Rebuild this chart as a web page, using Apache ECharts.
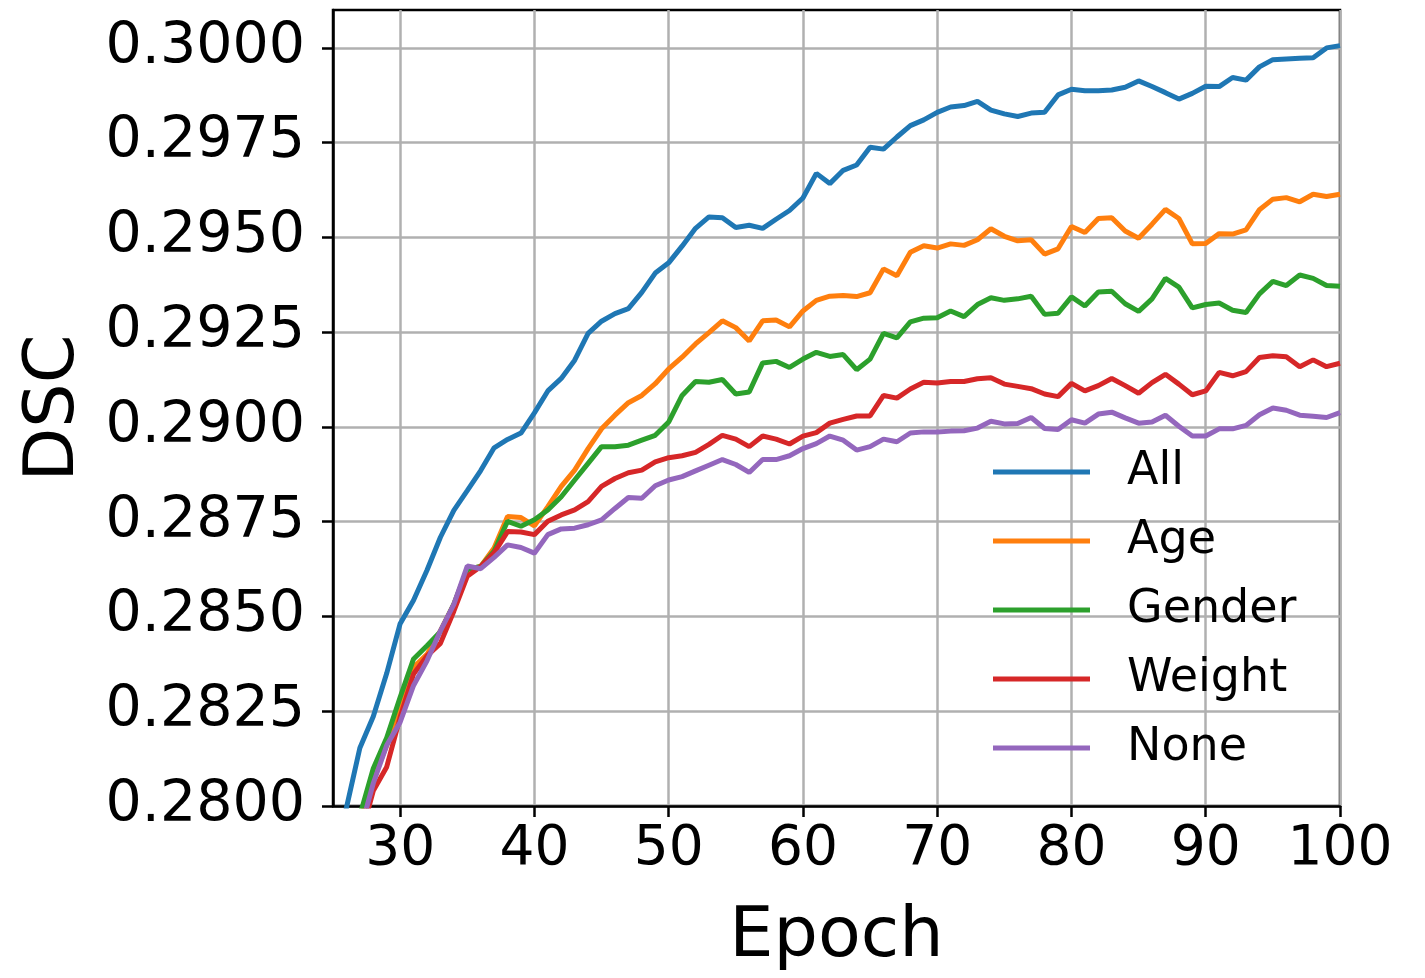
<!DOCTYPE html>
<html>
<head>
<meta charset="utf-8">
<script src="https://cdn.jsdelivr.net/npm/echarts@6/dist/echarts.min.js"></script>
<style>
  html, body { margin: 0; padding: 0; background: #fff; }
  #chart { width: 1425px; height: 978px; }
</style>
</head>
<body>
<div id="chart"></div>
<script>
// epochs 25..100
const epochs = []
for (let e = 25; e <= 100; e++) epochs.push(e)

const allData = [
  0.2785, 0.27995, 0.28153, 0.28236, 0.2835, 0.28481, 0.28543, 0.28622, 0.28709, 0.2878,
  0.28832, 0.28885, 0.28945, 0.28967, 0.28984, 0.29037, 0.29095, 0.29128, 0.29176, 0.29247,
  0.29279, 0.29299, 0.29312, 0.29355, 0.29406, 0.29433, 0.29477, 0.29524, 0.29554, 0.29552,
  0.29526, 0.29532, 0.29524, 0.29548, 0.29571, 0.29604, 0.29669, 0.29642, 0.29677, 0.29691,
  0.29738, 0.29733, 0.29765, 0.29795, 0.2981, 0.2983, 0.29844, 0.29848, 0.29859, 0.29836,
  0.29826, 0.29819, 0.29828, 0.2983, 0.29876, 0.29891, 0.29887, 0.29887, 0.29889, 0.29896,
  0.29913, 0.29898, 0.29882, 0.29865, 0.2988, 0.29899, 0.29898, 0.29922, 0.29915, 0.2995,
  0.29969, 0.29971, 0.29973, 0.29974, 0.3, 0.30006
]
const ageData = [
  0.2770, 0.2783, 0.2796, 0.2807, 0.2816, 0.2827, 0.28366, 0.2840, 0.28462, 0.28532,
  0.28624, 0.28632, 0.28681, 0.28764, 0.28761, 0.28739, 0.2879, 0.28843, 0.28886, 0.28943,
  0.28995, 0.29031, 0.29064, 0.29083, 0.29114, 0.29153, 0.29184, 0.29219, 0.29249, 0.2928,
  0.29262, 0.29227, 0.2928, 0.29282, 0.29264, 0.29306, 0.29334, 0.29345, 0.29347, 0.29344,
  0.29354, 0.29417, 0.29399, 0.29461, 0.29478, 0.29472, 0.29483, 0.29479, 0.29494, 0.29523,
  0.29503, 0.29491, 0.29494, 0.29456, 0.2947, 0.29529, 0.29513, 0.2955, 0.29552, 0.29517,
  0.29498, 0.29535, 0.29574, 0.2955, 0.29483, 0.29484, 0.2951, 0.29509, 0.2952, 0.29573,
  0.29601, 0.29605, 0.29594, 0.29614, 0.29608, 0.29614
]
const genderData = [
  0.2771, 0.2784, 0.27975, 0.28099, 0.2818, 0.28287, 0.28388, 0.28423, 0.2846, 0.28532,
  0.28624, 0.28632, 0.28672, 0.28751, 0.28738, 0.28755, 0.28781, 0.28816, 0.2886, 0.28904,
  0.28948, 0.28948, 0.28952, 0.28965, 0.28978, 0.29013, 0.29083, 0.2912, 0.29118, 0.29125,
  0.29087, 0.29092, 0.29169, 0.29173, 0.29157, 0.29179, 0.29197, 0.29186, 0.29191, 0.29151,
  0.29179, 0.29247, 0.29235, 0.29277, 0.29287, 0.29288, 0.29306, 0.29291, 0.29323, 0.29341,
  0.29334, 0.29338, 0.29345, 0.29297, 0.293, 0.29343, 0.29319, 0.29356, 0.29358, 0.29325,
  0.29305, 0.29338, 0.29392, 0.29369, 0.29314, 0.29323, 0.29327, 0.29308, 0.29302, 0.29351,
  0.29384, 0.29373, 0.29401, 0.29392, 0.29373, 0.29371
]
const weightData = [
  0.2765, 0.2778, 0.2791, 0.2804, 0.28103, 0.28234, 0.28348, 0.28396, 0.28429, 0.28514,
  0.28606, 0.28632, 0.28668, 0.28724, 0.28723, 0.28716, 0.28751, 0.28768, 0.28781, 0.28803,
  0.28843, 0.28864, 0.28879, 0.28886, 0.28908, 0.28919, 0.28924, 0.28933, 0.28954, 0.28978,
  0.28968, 0.28948, 0.28976, 0.28968, 0.28955, 0.28976, 0.28985, 0.2901, 0.2902, 0.29029,
  0.29029, 0.29083, 0.29076, 0.291, 0.29118, 0.29116, 0.2912, 0.2912, 0.29127, 0.2913,
  0.29113, 0.29107, 0.29101, 0.29087, 0.2908, 0.29115, 0.29095, 0.29109, 0.29128, 0.29109,
  0.29089, 0.29117, 0.29139, 0.29113, 0.29085, 0.29095, 0.29144, 0.29135, 0.29146, 0.29183,
  0.29188, 0.29185, 0.29159, 0.29177, 0.29159, 0.29168
]
const noneData = [
  0.2767, 0.2780, 0.2793, 0.2806, 0.2816, 0.28221, 0.28318, 0.28383, 0.28462, 0.28532,
  0.28633, 0.28626, 0.28656, 0.28689, 0.28682, 0.28667, 0.28716, 0.28731, 0.28733, 0.28742,
  0.28755, 0.28785, 0.28814, 0.28812, 0.28845, 0.2886, 0.28869, 0.28884, 0.28899, 0.28914,
  0.28901, 0.2888, 0.28914, 0.28914, 0.28924, 0.28943, 0.28956, 0.28976, 0.28965, 0.28939,
  0.28948, 0.28968, 0.28961, 0.28984, 0.28987, 0.28987, 0.28989, 0.2899, 0.28997, 0.29015,
  0.29008, 0.29009, 0.29025, 0.28996, 0.28993, 0.29019, 0.2901, 0.29034, 0.29039, 0.29024,
  0.2901, 0.29013, 0.29031, 0.29002, 0.28976, 0.28976, 0.28995, 0.28995, 0.29004, 0.29032,
  0.2905, 0.29044, 0.29031, 0.29028, 0.29025, 0.29038
]

const xTicks = [30, 40, 50, 60, 70, 80, 90, 100]
const yTicks = [0.28, 0.2825, 0.285, 0.2875, 0.29, 0.2925, 0.295, 0.2975, 0.30]

const seriesNames = ['All', 'Age', 'Gender', 'Weight', 'None']
const seriesData = [allData, ageData, genderData, weightData, noneData]
const colors = ['#1f77b4', '#ff7f0e', '#2ca02c', '#d62728', '#9467bd']

const FONT = 'DejaVu Sans'

const chart = echarts.init(document.getElementById('chart'), null, { renderer: 'canvas' })

chart.setOption({
  backgroundColor: '#fff',
  animation: false,
  grid: {
    left: 333,
    right: 85,
    top: 10,
    bottom: 168,
    show: true,
    borderColor: '#000',
    borderWidth: 2.5,
    containLabel: false
  },
  legend: {
    orient: 'vertical',
    left: 988,
    top: 444,
    icon: 'rect',
    itemWidth: 97,
    itemHeight: 5,
    itemGap: 23,
    data: seriesNames,
    textStyle: {
      fontFamily: FONT,
      fontSize: 46,
      color: '#000',
      lineHeight: 46,
      padding: [0, 0, 0, 32]
    }
  },
  xAxis: {
    type: 'value',
    min: 25,
    max: 100,
    splitNumber: 7,
    name: 'Epoch',
    nameLocation: 'middle',
    nameGap: 97,
    nameTextStyle: { fontFamily: FONT, fontSize: 70, color: '#000' },
    axisLine: { show: true, onZero: false, lineStyle: { color: '#000', width: 2.5 } },
    axisTick: { show: true, length: 11, customValues: xTicks, lineStyle: { color: '#000', width: 2.5 } },
    axisLabel: {
      customValues: xTicks,
      margin: 16,
      fontFamily: FONT,
      fontSize: 55,
      color: '#000'
    },
    splitLine: { show: true, lineStyle: { color: '#b0b0b0', width: 2.5 } }
  },
  yAxis: {
    type: 'value',
    min: 0.28,
    max: 0.301,
    interval: 0.0025,
    name: 'DSC',
    nameLocation: 'middle',
    nameGap: 243,
    nameTextStyle: { fontFamily: FONT, fontSize: 70, color: '#000' },
    axisLine: { show: true, onZero: false, lineStyle: { color: '#000', width: 2.5 } },
    axisTick: { show: true, length: 11, customValues: yTicks, lineStyle: { color: '#000', width: 2.5 } },
    axisLabel: {
      customValues: yTicks,
      margin: 28,
      fontFamily: FONT,
      fontSize: 57,
      color: '#000',
      formatter: function (v) { return v.toFixed(4) }
    },
    splitLine: { show: true, lineStyle: { color: '#b0b0b0', width: 2.5 } }
  },
  series: seriesNames.map(function (name, i) {
    return {
      name: name,
      type: 'line',
      symbol: 'none',
      clip: true,
      color: colors[i],
      lineStyle: { color: colors[i], width: 5 },
      data: epochs.map(function (e, j) { return [e, seriesData[i][j]] })
    }
  })
})
</script>
</body>
</html>
